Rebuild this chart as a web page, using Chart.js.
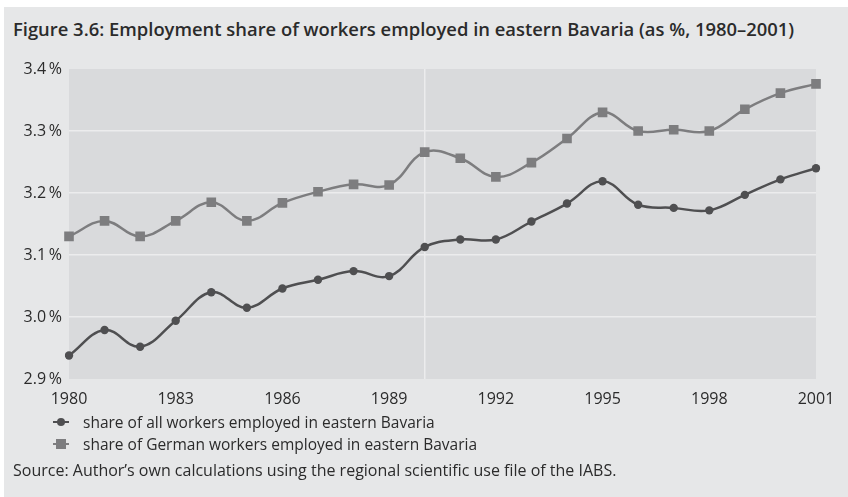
<!DOCTYPE html>
<html><head><meta charset="utf-8">
<script src="https://cdn.jsdelivr.net/npm/chart.js@4/dist/chart.umd.min.js"></script>
<style>
html,body{margin:0;padding:0;}
body{width:848px;height:497px;background:#fff;position:relative;overflow:hidden;font-family:"Open Sans",Lato,sans-serif;color:#2b2b2b;}
#panel{position:absolute;left:4px;top:7px;right:0;bottom:0;background:#e6e7e8;}
#title{position:absolute;left:13px;top:16px;font-size:18.4px;font-weight:600;white-space:nowrap;color:#2b2b2b;}
#wrap{position:absolute;left:0;top:0;width:848px;height:497px;}
.leg{position:absolute;left:53px;font-size:15.5px;white-space:nowrap;color:#2b2b2b;display:flex;align-items:center;}
.mk{position:relative;width:16px;height:10px;margin-right:14px;}
.mk .ln{position:absolute;left:0;right:0;top:4px;height:2px;}
.mk .dot{position:absolute;left:4px;top:1px;width:8px;height:8px;border-radius:50%;}
.mk .sq{position:absolute;left:3px;top:0px;width:10px;height:10px;}
#src{position:absolute;left:13px;top:459px;font-size:16px;white-space:nowrap;color:#2b2b2b;}
</style></head><body>
<div id="panel"></div>
<div id="title">Figure 3.6: Employment share of workers employed in eastern Bavaria (as %, 1980–2001)</div>
<div id="wrap"><canvas id="c" width="848" height="497"></canvas></div>
<div class="leg" style="top:411px"><div class="mk"><div class="ln" style="background:#4f4f51"></div><div class="dot" style="background:#4f4f51"></div></div>share of all workers employed in eastern Bavaria</div>
<div class="leg" style="top:433px"><div class="mk"><div class="ln" style="background:#7d7d7f"></div><div class="sq" style="background:#7d7d7f"></div></div>share of German workers employed in eastern Bavaria</div>
<div id="src">Source: Author’s own calculations using the regional scientific use file of the IABS.</div>
<script>
const years = [1980,1981,1982,1983,1984,1985,1986,1987,1988,1989,1990,1991,1992,1993,1994,1995,1996,1997,1998,1999,2000,2001];
const allWorkers = [2.938,2.979,2.952,2.994,3.040,3.015,3.046,3.060,3.074,3.066,3.113,3.125,3.125,3.154,3.183,3.219,3.181,3.176,3.172,3.197,3.222,3.240];
const germanWorkers = [3.130,3.155,3.130,3.155,3.185,3.155,3.184,3.202,3.214,3.213,3.266,3.256,3.226,3.249,3.288,3.330,3.300,3.302,3.300,3.335,3.361,3.376];
const seriesNames = ["share of all workers employed in eastern Bavaria","share of German workers employed in eastern Bavaria"];
const yTicks = [2.9,3.0,3.1,3.2,3.3,3.4];
const xLabelEvery = 3;
const gridYear = 1990;

const plotBg = {
  id:'plotBg',
  beforeDraw(chart){
    const {ctx, chartArea:a} = chart;
    ctx.save(); ctx.fillStyle='#d9dadc';
    ctx.fillRect(a.left,a.top,a.right-a.left,a.bottom-a.top);
    ctx.restore();
  }
};

new Chart(document.getElementById('c'),{
  type:'line',
  data:{
    labels: years.map(String),
    datasets:[
      {label:seriesNames[0],data:allWorkers,borderColor:'#4f4f51',backgroundColor:'#4f4f51',borderWidth:2.5,pointStyle:'circle',pointRadius:4.2,pointBorderWidth:0,tension:0.4},
      {label:seriesNames[1],data:germanWorkers,borderColor:'#7d7d7f',backgroundColor:'#7d7d7f',borderWidth:2.5,pointStyle:'rect',pointRadius:6.8,pointBorderWidth:0,tension:0.4}
    ]
  },
  options:{
    responsive:false,animation:false,
    layout:{padding:{left:0,top:69,right:32,bottom:88}},
    plugins:{legend:{display:false},tooltip:{enabled:false},title:{display:false}},
    scales:{
      x:{
        type:'category',offset:false,
        border:{display:false},
        grid:{drawTicks:false,lineWidth:1.5,color:(c)=> (c.tick && years[c.index]===gridYear)?'#ececed':'rgba(0,0,0,0)'},
        ticks:{autoSkip:false,maxRotation:0,padding:11,color:'#2b2b2b',font:{family:'Open Sans',size:16},
          callback:(v,i)=> ((years[i]-years[0])%xLabelEvery===0)?String(years[i]):''},
        afterFit:(s)=>{s.height=30;}
      },
      y:{
        min:yTicks[0],max:yTicks[yTicks.length-1],
        border:{display:false},
        afterBuildTicks:(s)=>{s.ticks=yTicks.map(v=>({value:v}));},
        grid:{drawTicks:false,lineWidth:1.5,color:(c)=>{const v=c.tick?c.tick.value:null;return (v===yTicks[0]||v===yTicks[yTicks.length-1])?'rgba(0,0,0,0)':'#ececed';}},
        ticks:{padding:7,color:'#2b2b2b',font:{family:'Open Sans',size:16},callback:(v)=>Number(v).toFixed(1)+'\u2009%'},
        afterFit:(s)=>{s.width=69;}
      }
    }
  },
  plugins:[plotBg]
});
</script>
</body></html>
